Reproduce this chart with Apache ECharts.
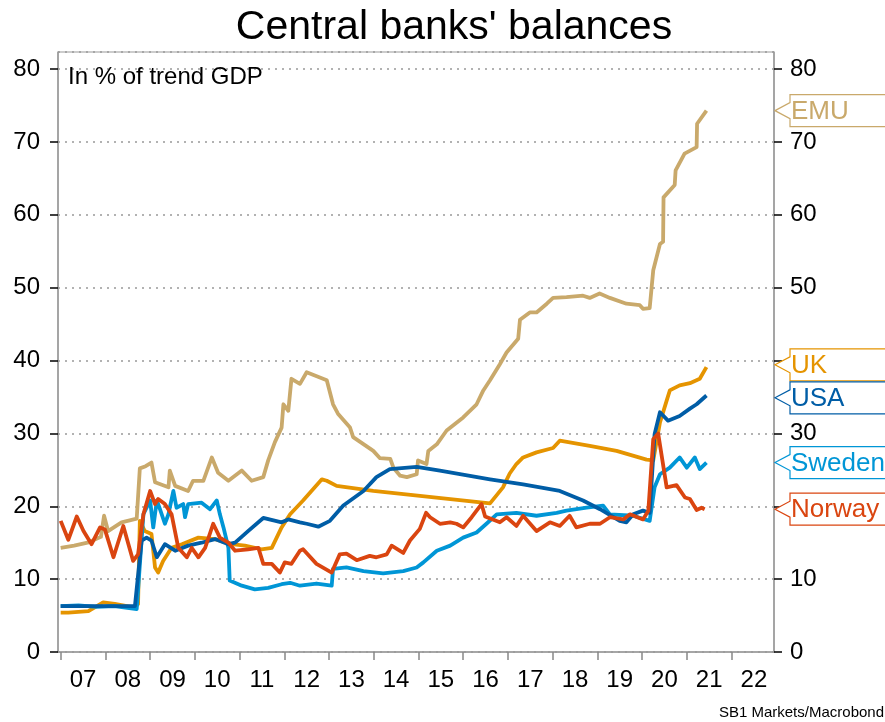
<!DOCTYPE html>
<html>
<head>
<meta charset="utf-8">
<script src="https://cdn.jsdelivr.net/npm/echarts@6/dist/echarts.min.js"></script>
<style>html,body{margin:0;padding:0;background:#fff;}#c{width:885px;height:722px;}</style>
</head>
<body>
<div id="c"></div>
<script>
// ---- data: [decimal year, % of trend GDP] ----
const emu = [[2007.0,14.3],[2007.3,14.6],[2007.6,15.0],[2007.9,15.8],[2007.97,18.7],[2008.06,16.6],[2008.36,17.8],[2008.7,18.3],[2008.77,25.2],[2008.9,25.5],[2009.03,26.0],[2009.11,23.3],[2009.41,22.6],[2009.44,24.9],[2009.56,22.8],[2009.85,22.1],[2009.96,23.5],[2010.19,23.5],[2010.38,26.7],[2010.52,24.6],[2010.75,23.5],[2011.05,24.9],[2011.27,23.5],[2011.53,24.0],[2011.64,26.3],[2011.79,28.8],[2011.94,30.8],[2011.98,34.0],[2012.09,33.1],[2012.16,37.5],[2012.35,36.8],[2012.5,38.4],[2012.95,37.3],[2013.09,34.0],[2013.2,32.7],[2013.47,30.8],[2013.54,29.5],[2013.99,27.6],[2014.14,26.6],[2014.37,26.5],[2014.44,25.3],[2014.59,24.2],[2014.74,24.0],[2014.96,24.4],[2014.99,26.3],[2015.18,25.8],[2015.22,27.6],[2015.41,28.5],[2015.63,30.4],[2016.0,32.2],[2016.3,34.0],[2016.45,35.9],[2016.6,37.3],[2016.82,39.5],[2016.97,41.1],[2017.23,43.0],[2017.27,45.6],[2017.49,46.6],[2017.64,46.6],[2017.87,47.8],[2018.01,48.6],[2018.31,48.7],[2018.68,48.9],[2018.83,48.6],[2019.05,49.2],[2019.28,48.6],[2019.65,47.8],[2019.95,47.6],[2020.02,47.1],[2020.17,47.2],[2020.25,52.4],[2020.4,56.0],[2020.47,56.3],[2020.48,62.4],[2020.73,64.1],[2020.75,66.1],[2020.95,68.4],[2021.22,69.3],[2021.23,72.5],[2021.44,74.3]];
const uk = [[2007.0,5.4],[2007.17,5.4],[2007.62,5.6],[2007.95,6.8],[2008.21,6.6],[2008.66,6.1],[2008.73,6.6],[2008.77,18.0],[2008.88,16.6],[2009.03,16.2],[2009.11,11.6],[2009.18,10.9],[2009.29,12.5],[2009.48,14.3],[2009.71,14.8],[2010.08,15.7],[2010.45,15.5],[2010.82,14.8],[2011.12,14.6],[2011.49,14.1],[2011.72,14.3],[2011.94,17.1],[2012.13,18.9],[2012.42,20.8],[2012.84,23.7],[2012.95,23.5],[2013.17,22.8],[2013.99,22.1],[2016.6,20.4],[2016.89,22.6],[2017.04,24.5],[2017.19,25.8],[2017.34,26.7],[2017.64,27.4],[2018.01,28.0],[2018.16,29.0],[2018.83,28.3],[2019.43,27.6],[2020.1,26.4],[2020.25,26.3],[2020.4,31.5],[2020.55,34.5],[2020.62,35.9],[2020.84,36.6],[2021.07,36.9],[2021.29,37.5],[2021.44,39.1]];
const usa = [[2007.0,6.3],[2007.5,6.3],[2008.0,6.3],[2008.66,6.3],[2008.81,15.3],[2008.92,15.7],[2009.03,15.3],[2009.15,13.0],[2009.33,14.8],[2009.56,13.9],[2009.85,14.6],[2010.15,15.0],[2010.45,15.5],[2010.75,14.8],[2010.9,15.0],[2011.19,16.6],[2011.53,18.4],[2011.94,17.8],[2012.09,18.2],[2012.35,17.8],[2012.5,17.6],[2012.76,17.2],[2013.02,18.0],[2013.32,20.1],[2013.77,22.1],[2014.06,24.0],[2014.36,25.1],[2014.96,25.4],[2015.48,24.9],[2016.6,23.7],[2017.34,23.0],[2018.16,22.1],[2018.68,20.8],[2019.06,19.6],[2019.5,18.0],[2019.65,17.8],[2019.8,18.9],[2020.02,19.4],[2020.17,19.1],[2020.28,29.9],[2020.4,32.9],[2020.58,31.75],[2020.84,32.4],[2021.07,33.4],[2021.22,34.0],[2021.44,35.2]];
const sweden = [[2007.0,6.3],[2007.4,6.4],[2007.8,6.2],[2008.2,6.3],[2008.7,5.9],[2008.85,18.9],[2009.0,20.8],[2009.07,17.1],[2009.15,20.8],[2009.22,19.6],[2009.33,17.6],[2009.41,18.9],[2009.44,19.8],[2009.52,22.1],[2009.59,19.8],[2009.74,20.3],[2009.78,18.5],[2009.85,20.3],[2010.15,20.5],[2010.34,19.6],[2010.49,20.8],[2010.56,18.9],[2010.64,17.1],[2010.75,14.3],[2010.78,9.8],[2011.05,9.1],[2011.34,8.6],[2011.64,8.8],[2011.94,9.3],[2012.13,9.5],[2012.35,9.1],[2012.72,9.4],[2013.06,9.1],[2013.09,11.4],[2013.39,11.6],[2013.77,11.1],[2014.21,10.8],[2014.66,11.1],[2014.96,11.6],[2015.11,12.3],[2015.41,13.9],[2015.71,14.6],[2016.0,15.7],[2016.3,16.4],[2016.52,17.6],[2016.75,18.9],[2017.19,19.1],[2017.64,18.7],[2018.09,19.1],[2018.31,19.4],[2018.76,19.8],[2019.13,20.1],[2019.28,18.9],[2019.8,18.7],[2020.17,18.0],[2020.28,22.6],[2020.4,24.4],[2020.62,25.3],[2020.84,26.7],[2021.0,25.3],[2021.18,26.7],[2021.29,25.1],[2021.44,26.0]];
const norway = [[2007.0,18.0],[2007.17,15.4],[2007.36,18.6],[2007.51,16.6],[2007.69,14.8],[2007.88,17.1],[2007.99,16.8],[2008.18,13.0],[2008.4,17.3],[2008.62,12.5],[2008.73,13.4],[2008.85,18.9],[2009.0,22.1],[2009.11,20.3],[2009.18,21.0],[2009.33,20.3],[2009.48,18.9],[2009.63,14.3],[2009.82,13.0],[2009.93,14.3],[2010.08,13.0],[2010.23,14.3],[2010.41,17.6],[2010.56,15.7],[2010.75,15.0],[2010.9,13.9],[2011.19,14.1],[2011.42,14.3],[2011.53,12.1],[2011.72,12.1],[2011.9,10.9],[2012.01,12.3],[2012.16,12.1],[2012.35,13.9],[2012.42,14.1],[2012.72,12.1],[2013.06,10.9],[2013.24,13.4],[2013.39,13.5],[2013.62,12.6],[2013.91,13.2],[2014.06,13.0],[2014.29,13.4],[2014.4,14.6],[2014.66,13.6],[2014.81,15.3],[2015.03,16.9],[2015.17,19.1],[2015.26,18.5],[2015.48,17.6],[2015.71,17.8],[2015.85,17.6],[2016.0,17.1],[2016.19,18.5],[2016.41,20.3],[2016.49,18.6],[2016.82,17.8],[2016.97,18.5],[2017.19,17.3],[2017.34,18.7],[2017.64,16.6],[2017.94,17.8],[2018.16,17.3],[2018.38,18.7],[2018.53,17.1],[2018.83,17.6],[2019.06,17.6],[2019.28,18.5],[2019.58,18.2],[2019.73,18.9],[2020.02,18.2],[2020.14,19.4],[2020.25,29.2],[2020.36,30.0],[2020.55,22.6],[2020.77,22.9],[2020.96,21.2],[2021.07,21.0],[2021.22,19.5],[2021.33,19.8],[2021.4,19.6]];

const seriesNames = ['EMU','UK','Sweden','USA','Norway'];
const seriesData  = [emu, uk, sweden, usa, norway];
const seriesColors = ['#C9A96B','#E59400','#0096D6','#005DA6','#DA4510'];
const yearTicks = [2007,2008,2009,2010,2011,2012,2013,2014,2015,2016,2017,2018,2019,2020,2021,2022];
const yearLabelPos = yearTicks.map(y => y + 0.5);
const X_MIN = 2006.94, X_MAX = 2022.95;
const Y_MIN = 0, Y_MAX = 82.35;

const FONT = 'Liberation Sans, Arial, sans-serif';
const chart = echarts.init(document.getElementById('c'), null, {renderer:'canvas'});
const yLabelFmt = v => (Math.abs(v % 10) < 1e-6 ? String(v) : '');

chart.setOption({
  animation: false,
  backgroundColor: '#fff',
  title: [
    {text: "Central banks' balances", left: 449, top: 2, textAlign: 'center',
     textStyle: {fontFamily: FONT, fontSize: 41, fontWeight: 'normal', color: '#000'}},
    {text: 'In % of trend GDP', left: 63, top: 60,
     textStyle: {fontFamily: FONT, fontSize: 24, fontWeight: 'normal', color: '#000'}},
    {text: 'SB1 Markets/Macrobond', right: 1, top: 705, padding: 0,
     textStyle: {fontFamily: FONT, fontSize: 15, fontWeight: 'normal', color: '#000'}}
  ],
  grid: {left: 58, top: 52, width: 716, height: 600, show: true, borderColor: '#999', borderWidth: 1, backgroundColor: 'transparent'},
  xAxis: {
    type: 'value', min: X_MIN, max: X_MAX,
    axisLine: {show: true, lineStyle: {color: '#999', width: 1.5}},
    axisTick: {show: true, customValues: yearTicks, length: 8, lineStyle: {color: '#888', width: 1.5}},
    axisLabel: {customValues: yearLabelPos, margin: 16, fontFamily: FONT, fontSize: 24, color: '#000',
      formatter: v => String(Math.floor(v) % 100).padStart(2, '0')},
    splitLine: {show: false}
  },
  yAxis: [
    {type: 'value', min: Y_MIN, max: Y_MAX, interval: 10, position: 'left',
     axisLine: {show: true, lineStyle: {color: '#999', width: 1.5}},
     axisTick: {show: true, length: 8, lineStyle: {color: '#000', width: 1.5}},
     axisLabel: {margin: 18, showMaxLabel: false, fontFamily: FONT, fontSize: 24, color: '#000', formatter: yLabelFmt},
     splitLine: {show: true, lineStyle: {color: '#999', type: [2, 5], width: 1.5}}},
    {type: 'value', min: Y_MIN, max: Y_MAX, interval: 10, position: 'right',
     axisLine: {show: true, lineStyle: {color: '#999', width: 1.5}},
     axisTick: {show: true, length: 8, lineStyle: {color: '#000', width: 1.5}},
     axisLabel: {margin: 16, showMaxLabel: false, fontFamily: FONT, fontSize: 24, color: '#000', formatter: yLabelFmt},
     splitLine: {show: false}}
  ],
  series: seriesNames.map((n, i) => ({
    name: n, type: 'line', data: seriesData[i], yAxisIndex: 0,
    showSymbol: false, symbol: 'none', smooth: false, clip: true,
    lineStyle: {color: seriesColors[i], width: 3.8, join: 'round'},
    z: 2 + i
  }))
});

// ---- callout labels at the right-hand side ----
function callouts() {
  const items = seriesNames.map((n, i) => {
    const d = seriesData[i];
    return {name: n, color: seriesColors[i], y: chart.convertToPixel({yAxisIndex: 0}, d[d.length - 1][1])};
  }).sort((a, b) => a.y - b.y);
  const H = 33;
  for (let k = 0; k < 20; k++) {
    for (let i = 1; i < items.length; i++) {
      const gap = items[i].y - items[i - 1].y;
      if (gap < H) { const d = (H - gap) / 2; items[i - 1].y -= d; items[i].y += d; }
    }
  }
  const xr = chart.convertToPixel({xAxisIndex: 0}, X_MAX);
  const els = [];
  items.forEach(it => {
    const y = it.y, x0 = xr + 1, x1 = xr + 16, h = 16;
    els.push({type: 'polygon', z: 50,
      shape: {points: [[x0, y], [x1, y - 8], [x1, y - h], [900, y - h], [900, y + h], [x1, y + h], [x1, y + 8]]},
      style: {fill: '#fff', stroke: it.color, lineWidth: 1.2}});
    els.push({type: 'text', z: 51, x: x1 + 1, y: y + 1,
      style: {text: it.name, fill: it.color, font: '26px ' + FONT, textVerticalAlign: 'middle', textAlign: 'left'}});
  });
  chart.setOption({graphic: {elements: els}});
}
callouts();
</script>
</body>
</html>
